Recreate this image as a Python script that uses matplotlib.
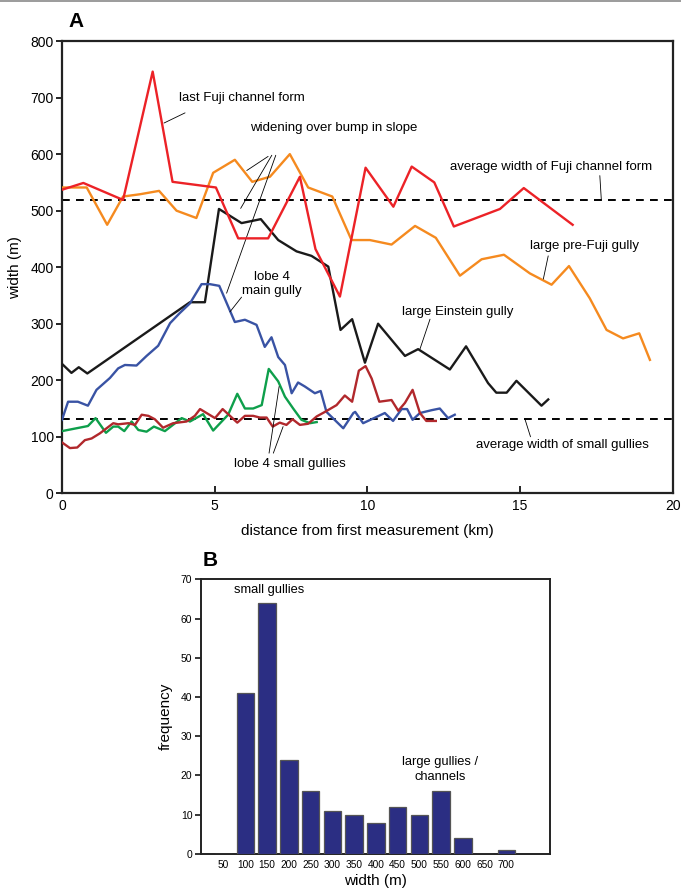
import matplotlib
matplotlib.use("Agg")
import matplotlib.pyplot as plt

plt.rcParams['font.family'] = ['Liberation Sans', 'DejaVu Sans']

# ---- Panel A: width along gully / channel course ----
fuji_x = [0, 0.7, 2.0, 2.97, 3.62, 5.04, 5.77, 6.75, 7.79, 8.3, 9.1, 9.94, 10.85, 11.45,
          12.19, 12.83, 14.34, 15.12, 16.72]
fuji_w = [537, 549, 519, 746, 551, 541, 451, 451, 560, 432, 348, 576, 507, 578,
          550, 472, 503, 540, 475]

prefuji_x = [0, 0.81, 1.48, 2.0, 2.55, 3.18, 3.75, 4.4, 4.95, 5.66, 6.23, 6.81, 7.46, 8.06,
             8.85, 9.48, 10.08, 10.79, 11.56, 12.24, 13.03, 13.74, 14.47, 15.32, 16.03,
             16.6, 17.28, 17.83, 18.37, 18.9, 19.25]
prefuji_w = [541, 541, 475, 525, 529, 535, 500, 487, 567, 590, 551, 560, 600, 541,
             525, 448, 448, 440, 473, 452, 385, 414, 422, 389, 369,
             402, 345, 289, 274, 283, 236]

einstein_x = [0, 0.31, 0.55, 0.83, 4.19, 4.68, 5.14, 5.88, 6.51, 7.08, 7.68, 8.17, 8.72,
              9.12, 9.5, 9.92, 10.35, 11.23, 11.66, 12.7, 13.23, 13.95, 14.22, 14.56,
              14.88, 15.7, 15.92]
einstein_w = [229, 213, 223, 212, 338, 338, 503, 478, 485, 448, 428, 420, 401,
              289, 308, 231, 300, 243, 255, 219, 260, 195, 178, 178,
              199, 155, 166]

main_x = [0, 0.2, 0.52, 0.85, 1.13, 1.57, 1.84, 2.06, 2.44, 2.77, 3.15, 3.54, 3.86, 4.19,
          4.57, 4.84, 5.15, 5.66, 5.99, 6.37, 6.64, 6.86, 7.08, 7.3, 7.52, 7.73, 7.95,
          8.28, 8.47, 8.66, 9.21, 9.54, 9.6, 9.86, 10.57, 10.84, 11.12, 11.3, 11.48,
          11.72, 12.1, 12.37, 12.64, 12.86]
main_w = [130, 162, 162, 155, 183, 204, 221, 227, 226, 243, 261, 301, 319, 336,
          370, 370, 367, 303, 307, 298, 259, 276, 241, 227, 177, 196, 189,
          177, 181, 144, 115, 142, 144, 124, 142, 128, 149, 149, 130,
          142, 147, 150, 133, 139]

small1_x = [0, 0.85, 1.1, 1.44, 1.68, 1.84, 2.04, 2.28, 2.5, 2.77, 3.01, 3.37, 3.92, 4.19,
            4.62, 4.95, 5.44, 5.74, 5.99, 6.26, 6.54, 6.77, 7.08, 7.3, 7.57, 7.84, 8.12, 8.34]
small1_w = [110, 119, 133, 107, 118, 118, 110, 127, 112, 109, 118, 110, 133, 127,
            140, 111, 139, 176, 150, 150, 156, 220, 198, 171, 150, 130, 124, 126]

small2_x = [0, 0.26, 0.5, 0.75, 0.97, 1.24, 1.68, 1.84, 2.17, 2.39, 2.61, 2.83, 3.04, 3.31,
            3.64, 4.08, 4.35, 4.52, 5.01, 5.26, 5.74, 5.99, 6.26, 6.48, 6.7, 6.9, 7.13,
            7.35, 7.55, 7.79, 8.06, 8.34, 8.61, 8.99, 9.26, 9.5, 9.72, 9.94, 10.14, 10.39,
            10.79, 11.01, 11.23, 11.48, 11.72, 11.93, 12.24]
small2_w = [90, 80, 81, 94, 97, 106, 124, 122, 124, 121, 139, 137, 131, 116,
            124, 127, 137, 149, 133, 149, 125, 137, 137, 134, 134, 118, 125,
            121, 131, 121, 123, 136, 144, 156, 173, 162, 217, 225, 203, 162,
            165, 146, 160, 183, 142, 128, 128]

avg_fuji = 518
avg_small = 131

# ---- Panel B: width histogram ----
bin_labels = ['50', '100', '150', '200', '250', '300', '350', '400', '450', '500',
              '550', '600', '650', '700']
frequency = [0, 41, 64, 24, 16, 11, 10, 8, 12, 10, 16, 4, 0, 1]

fig = plt.figure(figsize=(6.81, 8.93), dpi=100)
fig.add_artist(plt.Line2D([0, 1], [0.9985, 0.9985], color='#8a8a8a', lw=1.2,
                          transform=fig.transFigure))

ax = fig.add_axes([0.091, 0.4476, 0.897, 0.5064])
lw = 1.7
ax.plot(prefuji_x, prefuji_w, color='#F58A1F', lw=lw, zorder=3)
ax.plot(fuji_x, fuji_w, color='#EC2227', lw=lw, zorder=4)
ax.plot(einstein_x, einstein_w, color='#1A1A1A', lw=lw, zorder=3)
ax.plot(main_x, main_w, color='#3953A4', lw=lw, zorder=3)
ax.plot(small1_x, small1_w, color='#0E9F4B', lw=lw, zorder=3)
ax.plot(small2_x, small2_w, color='#B1282C', lw=lw, zorder=3)
ax.axhline(avg_fuji, color='black', lw=1.4, dashes=(4, 3.2), zorder=2)
ax.axhline(avg_small, color='black', lw=1.4, dashes=(4, 3.2), zorder=2)

ax.set_xlim(0, 20)
ax.set_ylim(0, 800)
ax.set_xticks([0, 5, 10, 15, 20])
ax.set_yticks(range(0, 801, 100))
ax.tick_params(axis='x', direction='in', length=5, width=1.2, labelsize=10, pad=4)
ax.tick_params(axis='y', direction='out', length=4, width=1.2, labelsize=10, pad=2)
for s in ax.spines.values():
    s.set_linewidth(1.6)
    s.set_color('#222222')
ax.set_xlabel('distance from first measurement (km)', fontsize=11, labelpad=8)
ax.set_ylabel('width (m)', fontsize=11, labelpad=6)

fs = 9.5
leader = dict(arrowstyle='-', lw=0.6, color='black', shrinkA=0, shrinkB=0)
ax.text(3.83, 700, 'last Fuji channel form', fontsize=fs, va='center', ha='left')
ax.annotate('', xy=(3.34, 655), xytext=(4.03, 673), arrowprops=leader)

ax.text(8.9, 647, 'widening over bump in slope', fontsize=fs, va='center', ha='center')
for start, tip in [((6.75, 596), (6.05, 571)),
                   ((6.87, 598), (5.85, 504)),
                   ((7.0, 598), (5.39, 354))]:
    ax.annotate('', xy=tip, xytext=start, arrowprops=leader)

ax.text(16.0, 577, 'average width of Fuji channel form', fontsize=fs, va='center', ha='center')
ax.annotate('', xy=(17.66, avg_fuji), xytext=(17.61, 562), arrowprops=leader)

ax.text(17.1, 437, 'large pre-Fuji gully', fontsize=fs, va='center', ha='center')
ax.annotate('', xy=(15.76, 379), xytext=(15.92, 420), arrowprops=leader)

ax.text(12.96, 320, 'large Einstein gully', fontsize=fs, va='center', ha='center')
ax.annotate('', xy=(11.72, 255), xytext=(12.05, 308), arrowprops=leader)

ax.text(16.37, 86, 'average width of small gullies', fontsize=fs, va='center', ha='center')
ax.annotate('', xy=(15.16, avg_small), xytext=(15.34, 100), arrowprops=leader)

ax.text(6.86, 370, 'lobe 4\nmain gully', fontsize=fs, va='center', ha='center',
        linespacing=1.3)
ax.annotate('', xy=(5.5, 321), xytext=(5.88, 347), arrowprops=leader)

ax.text(7.45, 52, 'lobe 4 small gullies', fontsize=fs, va='center', ha='center')
ax.annotate('', xy=(7.11, 189), xytext=(6.78, 71), arrowprops=leader)
ax.annotate('', xy=(7.24, 118), xytext=(6.92, 71), arrowprops=leader)

fig.text(0.101, 0.976, 'A', fontsize=15, fontweight='bold', va='center', ha='left')

# ---- Panel B ----
bx = fig.add_axes([0.2947, 0.0437, 0.5129, 0.3076])
idx = list(range(len(bin_labels)))
bx.bar(idx, frequency, width=0.8, color='#2B2E83', edgecolor='#555555', linewidth=0.9,
       zorder=3)
bx.set_xlim(-1.05, 15.0)
bx.set_ylim(0, 70)
bx.set_yticks(range(0, 71, 10))
bx.set_xticks(idx)
bx.set_xticklabels(bin_labels)
bx.tick_params(axis='x', length=0, labelsize=7.3, pad=4)
bx.tick_params(axis='y', direction='out', length=4, width=1.1, labelsize=7.5, pad=2)
for s in bx.spines.values():
    s.set_linewidth(1.4)
    s.set_color('#222222')
bx.set_xlabel('width (m)', fontsize=11, labelpad=3)
bx.set_ylabel('frequency', fontsize=11, labelpad=6)
bx.text(2.1, 67.3, 'small gullies', fontsize=9.3, ha='center', va='center')
bx.text(9.95, 21.5, 'large gullies /\nchannels', fontsize=9.3, ha='center', va='center',
        linespacing=1.25)

fig.text(0.298, 0.372, 'B', fontsize=15, fontweight='bold', va='center', ha='left')

fig.savefig('out.png', dpi=100)
